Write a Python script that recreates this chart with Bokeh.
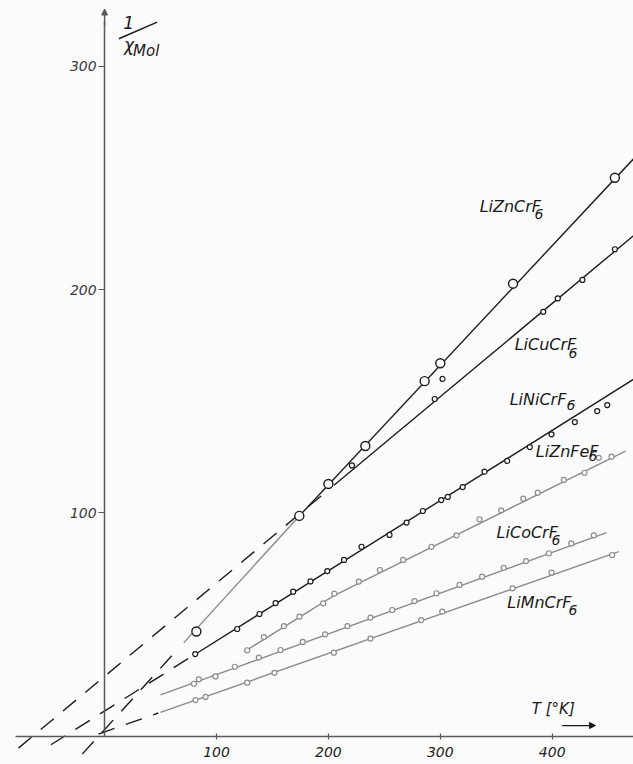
from bokeh.plotting import figure
from bokeh.models import LinearAxis, FixedTicker, Range1d, Arrow, NormalHead
from bokeh.core.properties import value
from bokeh.embed import file_html
from bokeh.resources import INLINE

# ---------------- data (T in K, 1/chi_mol) ----------------
x_ticks = [100, 200, 300, 400]
y_ticks = [100, 200, 300]

# LiZnCrF6 (large open circles)
zncr_T = [82, 174, 200, 233, 286, 300, 365, 456]
zncr_y = [47, 98.7, 113, 130, 159, 167, 202.6, 250]
zncr_fit_T = [174, 472.7]
zncr_fit_y = [98.7, 258.5]
zncr_low_T = [70.8, 174]
zncr_low_y = [42, 98.7]
zncr_ext_T = [-20, 66]
zncr_ext_y = [-7.9, 39.4]

# LiCuCrF6
cu_T = [221, 295, 302, 392, 405, 427, 456]
cu_y = [121.3, 151, 160, 190, 196, 204.3, 218]
cu_fit_T = [205, 472.7]
cu_fit_y = [112.4, 224.1]
cu_ext_T = [-77, 203]
cu_ext_y = [-5.2, 111.6]

# LiNiCrF6
ni_T = [81, 118.5, 138.4, 152.8, 168.5, 184, 199, 214, 229.6, 254.6, 269.9,
        284.4, 300.8, 306.7, 320, 339.5, 359.8, 380, 399.4, 420.2, 440.2, 449.2]
ni_y = [36.9, 48.1, 54.8, 59.7, 64.8, 69.4, 74, 79, 84.9, 90.2, 95.7,
        100.9, 105.8, 107.2, 111.6, 118.5, 123.3, 129.5, 135.2, 140.7, 145.6, 148.3]
ni_fit_T = [81, 472.7]
ni_fit_y = [36.8, 159.8]
ni_ext_T = [-48, 78]
ni_ext_y = [-3.7, 35.9]

# LiZnFeF6 (grey)
znfe_T = [127.4, 142.3, 160.2, 174.2, 195.3, 205.3, 227.2, 246, 266.8, 292.1,
          314.5, 335, 354.4, 374.1, 387.1, 410.4, 428.9, 441.6, 453]
znfe_y = [38.6, 44.5, 49.4, 53.6, 59.6, 63.9, 69.3, 74.5, 79, 84.9,
          90, 97.2, 101.2, 106.4, 109.1, 114.8, 118, 124.7, 125.2]
znfe_fit_T = [125, 205, 465.5]
znfe_fit_y = [38, 63, 127.7]

# LiCoCrF6 (grey)
co_T = [79.8, 84.2, 99.1, 116.4, 137.8, 157.2, 177.1, 197, 217, 237.6, 257,
        276.9, 296.6, 317.2, 337.4, 356.7, 376.6, 397, 417, 437.2]
co_y = [23.6, 25.6, 26.9, 31.2, 35.3, 38.7, 42.3, 45.7, 49.4, 53.2, 56.6,
        60.6, 64.1, 67.8, 71.5, 75.5, 78.5, 82, 86.4, 90]
co_fit_T = [50, 448.5]
co_fit_y = [18.6, 91.2]

# LiMnCrF6 (grey)
mn_T = [81.3, 90.2, 127.4, 151.8, 204.9, 237.6, 282.9, 301.7, 364.6, 399.4, 453.6]
mn_y = [16.3, 17.7, 24.1, 28.5, 37.5, 43.8, 52.1, 55.9, 66.3, 73.3, 81.2]
mn_fit_T = [50, 459.5]
mn_fit_y = [10.8, 82.7]
mn_ext_T = [-5.5, 48]
mn_ext_y = [1.1, 10.5]

# compound labels: formula body + lowered "6"
label_text = ["LiZnCrF", "LiCuCrF", "LiNiCrF", "LiZnFeF", "LiCoCrF", "LiMnCrF"]
label_T = [362.6, 394.0, 387.3, 413.4, 377.7, 388.6]
label_y = [237.1, 175.4, 150.8, 127.5, 91.3, 60.0]
sub_text = ["6", "6", "6", "6", "6", "6"]
sub_T = [392.2, 422.6, 420.8, 440.5, 407.4, 422.6]
sub_y = [234.0, 171.4, 148.1, 125.3, 87.7, 56.4]

# axis titles
ytitle_num = ["1"]
ytitle_num_T = [21.5]
ytitle_num_y = [319.4]
ytitle_bar_T = [12.7, 47.0]
ytitle_bar_y = [312.2, 319.6]
ytitle_chi = ["χ"]
ytitle_chi_T = [21.8]
ytitle_chi_y = [309.4]
ytitle_mol = ["Mol"]
ytitle_mol_T = [25.4]
ytitle_mol_y = [306.6]
xtitle = ["T [°K]"]
xtitle_T = [401.0]
xtitle_y = [12.1]
xarrow_T = [409.0, 438.7]
xarrow_y = [4.9, 4.9]
yarrow_T = [0.0, 0.0]
yarrow_y = [318.0, 325.5]

# ---------------- styling ----------------
BLACK = "#1c1c1c"
GREY = "#8c8c8c"
AXIS = "#5a5a5a"
FONT = "DejaVu Sans"
BG = "#fbfbfb"
INK = "#1a1a1a"

p = figure(width=633, height=764,
           x_range=Range1d(-93.03, 472.65), y_range=Range1d(-12.53, 329.31),
           x_axis_location=None, y_axis_location=None,
           toolbar_location=None, output_backend="svg", min_border=0,
           background_fill_color=BG, border_fill_color=BG)
p.outline_line_color = None
p.grid.visible = False

xaxis = LinearAxis(fixed_location=0, ticker=FixedTicker(ticks=x_ticks),
                   bounds=(-79.6, 472.65),
                   axis_line_color=AXIS, axis_line_width=1.5,
                   major_tick_line_color=AXIS, major_tick_line_width=1.2,
                   major_tick_in=3, major_tick_out=3,
                   minor_tick_line_color=None,
                   major_label_text_font=FONT, major_label_text_font_style="italic",
                   major_label_text_font_size="14px", major_label_text_color="#222",
                   major_label_standoff=8)
p.add_layout(xaxis, "below")

yaxis = LinearAxis(fixed_location=0, ticker=FixedTicker(ticks=y_ticks),
                   bounds=(0, 320),
                   axis_line_color=AXIS, axis_line_width=1.5,
                   major_tick_line_color=AXIS, major_tick_line_width=1.2,
                   major_tick_in=0, major_tick_out=6,
                   minor_tick_line_color=None,
                   major_label_text_font=FONT, major_label_text_font_style="italic",
                   major_label_text_font_size="14px", major_label_text_color="#3a3a3a",
                   major_label_standoff=2)
p.add_layout(yaxis, "left")
p.add_layout(Arrow(end=NormalHead(size=6, fill_color=AXIS, line_color=AXIS),
                   x_start=yarrow_T[0], y_start=yarrow_y[0],
                   x_end=yarrow_T[1], y_end=yarrow_y[1],
                   line_color=AXIS, line_width=1.5))

DASH = "17 12"

# dashed extrapolations
for T, y in [(zncr_ext_T, zncr_ext_y), (cu_ext_T, cu_ext_y),
             (ni_ext_T, ni_ext_y), (mn_ext_T, mn_ext_y)]:
    p.line(T, y, line_color=BLACK, line_width=1.4, line_dash=DASH)

# grey fit lines
for T, y in [(znfe_fit_T, znfe_fit_y), (co_fit_T, co_fit_y),
             (mn_fit_T, mn_fit_y), (zncr_low_T, zncr_low_y)]:
    p.line(T, y, line_color=GREY, line_width=1.4)

# black fit lines
for T, y in [(zncr_fit_T, zncr_fit_y), (cu_fit_T, cu_fit_y), (ni_fit_T, ni_fit_y)]:
    p.line(T, y, line_color=BLACK, line_width=1.4)

# markers
for T, y in [(znfe_T, znfe_y), (co_T, co_y), (mn_T, mn_y)]:
    p.scatter(T, y, marker="circle", size=5, fill_color=BG,
              line_color=GREY, line_width=1.2)
for T, y in [(cu_T, cu_y), (ni_T, ni_y)]:
    p.scatter(T, y, marker="circle", size=5, fill_color=BG,
              line_color=BLACK, line_width=1.2)
p.scatter(zncr_T, zncr_y, marker="circle", size=9, fill_color=BG,
          line_color=BLACK, line_width=1.4)

# labels
p.text(label_T, label_y, text=label_text, text_font=value(FONT),
       text_font_style="italic", text_font_size="16px",
       text_align="center", text_baseline="middle", text_color=INK)
p.text(sub_T, sub_y, text=sub_text, text_font=value(FONT),
       text_font_style="italic", text_font_size="14px",
       text_align="right", text_baseline="middle", text_color=INK)

# y title 1 / chi_Mol
p.text(ytitle_num_T, ytitle_num_y, text=ytitle_num, text_font=value(FONT),
       text_font_style="italic", text_font_size="17px",
       text_align="center", text_baseline="middle", text_color=INK)
p.line(ytitle_bar_T, ytitle_bar_y, line_color=INK, line_width=1.4)
p.text(ytitle_chi_T, ytitle_chi_y, text=ytitle_chi, text_font=value(FONT),
       text_font_style="italic", text_font_size="17px",
       text_align="center", text_baseline="middle", text_color=INK)
p.text(ytitle_mol_T, ytitle_mol_y, text=ytitle_mol, text_font=value(FONT),
       text_font_style="italic", text_font_size="15px",
       text_align="left", text_baseline="middle", text_color=INK)

# x title T [°K] with arrow
p.text(xtitle_T, xtitle_y, text=xtitle, text_font=value(FONT),
       text_font_style="italic", text_font_size="15px",
       text_align="center", text_baseline="middle", text_color=INK)
p.add_layout(Arrow(end=NormalHead(size=6, fill_color=INK, line_color=INK),
                   x_start=xarrow_T[0], y_start=xarrow_y[0],
                   x_end=xarrow_T[1], y_end=xarrow_y[1],
                   line_color=INK, line_width=1.2))

open("out.html", "w").write(file_html(p, INLINE))
